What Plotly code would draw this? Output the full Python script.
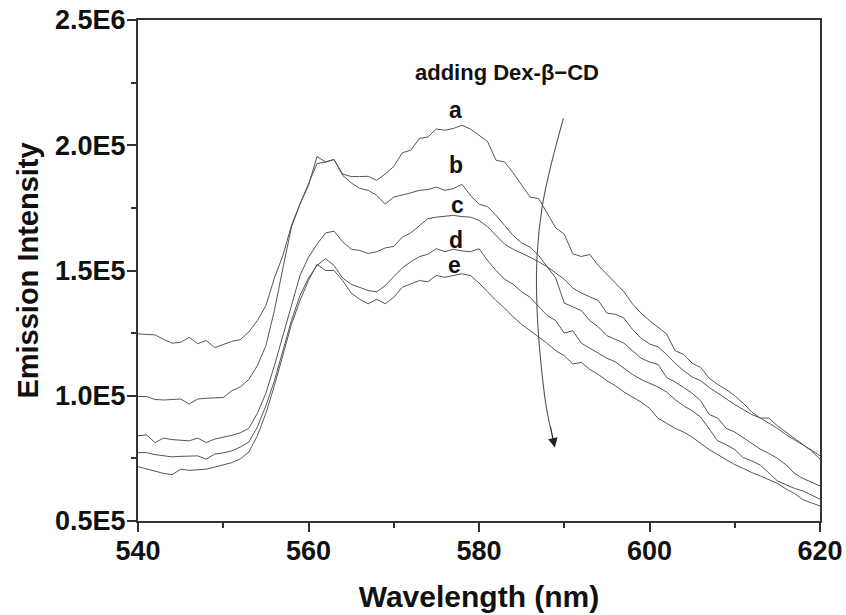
import plotly.graph_objects as go

# wavelength (nm), 1 nm steps
wavelength = list(range(540, 621))

# emission intensity, in units of 1E3
curve_a = [124.7, 124.5, 124.3, 122.5, 121.0, 121.3, 123.3, 120.8, 122.0, 119.2,
           120.5, 121.7, 122.4, 125.5, 130.0, 136.0, 147.0, 156.0, 168.0, 176.5,
           184.0, 195.5, 193.3, 194.3, 188.5, 187.5, 187.5, 187.6, 186.0, 188.5,
           191.5, 197.0, 198.0, 202.7, 203.3, 206.5, 206.0, 206.7, 208.0, 206.5,
           204.0, 201.5, 194.0, 193.3, 189.0, 184.0, 179.3, 178.7, 172.7, 167.0,
           164.5, 156.7, 155.6, 156.4, 152.0, 148.5, 145.0, 141.5, 136.7, 133.0,
           130.0, 127.5, 124.7, 118.0, 116.5, 113.0, 111.3, 107.0, 104.5, 102.5,
           100.0, 97.0, 93.5, 91.1, 91.1, 88.0, 85.5, 83.3, 80.5, 78.0, 74.7]
curve_b = [99.7, 99.7, 98.5, 98.3, 98.5, 98.7, 96.7, 98.7, 99.0, 99.1,
           99.3, 102.0, 103.5, 106.5, 112.0, 120.0, 134.0, 151.0, 167.3, 176.5,
           184.7, 192.7, 193.3, 194.3, 188.0, 185.0, 182.8, 182.0, 180.0, 176.5,
           179.3, 180.0, 181.0, 182.0, 182.3, 183.3, 182.0, 182.7, 184.4, 180.0,
           176.5, 175.5, 172.0, 168.0, 164.0, 161.0, 159.3, 156.0, 151.5, 149.0,
           146.5, 143.0, 141.0, 139.5, 138.0, 133.0, 132.5, 131.0, 126.5, 123.0,
           120.7, 119.5, 116.5, 113.0, 110.0, 107.5, 106.0, 103.3, 101.0, 98.5,
           96.5, 94.5, 92.5, 91.1, 89.0, 87.0, 84.5, 82.5, 80.5, 78.3, 76.0]
curve_c = [84.0, 84.4, 81.3, 83.1, 82.5, 82.2, 82.0, 83.1, 81.3, 82.7,
           83.3, 84.2, 85.2, 87.0, 93.0, 101.0, 112.0, 124.0, 136.5, 148.0,
           155.3, 160.5, 165.0, 165.7, 161.5, 158.5, 158.0, 156.8, 157.5, 159.0,
           159.6, 163.3, 165.0, 168.0, 170.7, 171.3, 171.8, 172.0, 171.5, 171.3,
           170.0, 167.5, 164.0, 160.5, 158.5, 157.0, 155.3, 153.5, 151.5, 147.0,
           137.0, 135.5, 134.0, 130.0, 127.5, 124.0, 122.5, 121.0, 118.0, 115.0,
           113.5, 112.5, 107.3, 105.5, 103.3, 101.0, 98.0, 92.5, 91.1, 87.0,
           85.5, 83.3, 81.0, 78.7, 77.0, 75.0, 72.5, 69.0, 67.0, 65.5, 64.0]
curve_d = [77.3, 77.3, 76.5, 76.0, 75.6, 75.8, 76.0, 76.0, 74.7, 76.7,
           77.2, 78.0, 79.5, 81.5, 87.5, 96.0, 106.0, 118.0, 130.0, 140.0,
           147.0, 152.0, 154.7, 152.0, 147.0, 144.5, 143.3, 142.0, 141.5, 144.0,
           147.5, 151.0, 153.5, 155.5, 156.5, 158.7, 157.5, 158.5, 157.8, 157.5,
           158.7, 154.0, 150.0, 146.5, 144.5, 141.5, 139.3, 135.5, 132.0, 130.0,
           125.0, 126.0, 121.0, 119.0, 117.0, 115.0, 113.5, 111.0, 108.5, 106.5,
           105.0, 103.5, 101.5, 98.5, 96.0, 94.0, 91.5, 86.5, 82.0, 80.5,
           78.5, 75.3, 74.0, 72.3, 69.0, 66.0, 64.5, 63.0, 62.0, 60.5, 58.7]
curve_e = [71.7, 70.8, 70.0, 69.0, 68.5, 70.7, 70.2, 70.3, 70.7, 71.5,
           72.5, 73.3, 74.8, 77.5, 84.0, 93.0, 104.0, 116.0, 128.5, 138.0,
           146.0, 152.5, 150.0, 150.0, 146.0, 141.0, 138.5, 136.7, 138.5, 136.7,
           139.3, 143.3, 144.5, 146.0, 145.5, 148.0, 147.3, 148.0, 148.7, 148.0,
           145.0, 141.5, 138.0, 135.0, 131.5, 128.5, 126.0, 123.5, 120.9, 118.0,
           116.0, 112.7, 113.3, 110.5, 108.5, 106.0, 104.0, 101.5, 99.5, 97.5,
           95.0, 91.0, 89.0, 87.0, 85.5, 83.5, 81.0, 78.5, 76.5, 74.5,
           72.5, 71.0, 69.3, 68.0, 66.5, 65.0, 62.8, 61.0, 58.5, 57.3, 56.0]

curves = {'a': curve_a, 'b': curve_b, 'c': curve_c, 'd': curve_d, 'e': curve_e}

# label positions (nm, intensity in 1E3)
label_pos = {'a': (577.3, 214), 'b': (577.3, 192), 'c': (577.5, 176),
             'd': (577.3, 162), 'e': (577.1, 152)}

y_ticks = [50000, 100000, 150000, 200000, 250000]
y_ticktext = ['0.5E5', '1.0E5', '1.5E5', '2.0E5', '2.5E6']
x_ticks = [540, 560, 580, 600, 620]

# curved arrow (nm, intensity in 1E3)
arrow_x = [589.9, 588.3, 587.4, 586.8, 586.8, 587.2, 587.9, 588.4]
arrow_y = [210.7, 190, 175.3, 155.3, 135.3, 115.3, 95.3, 87]

FONT = 'Liberation Sans, Arial, sans-serif'
LINE = '#555555'

fig = go.Figure()
for name, vals in curves.items():
    fig.add_trace(go.Scatter(x=wavelength, y=[v * 1000 for v in vals], mode='lines',
                             line=dict(color=LINE, width=1), name=name,
                             showlegend=False))

fig.add_trace(go.Scatter(x=arrow_x, y=[v * 1000 for v in arrow_y], mode='lines',
                         line=dict(color='#555555', width=1.1, shape='spline'),
                         showlegend=False))
fig.add_annotation(x=588.9, y=79300, ax=588.35, ay=88000, axref='x', ayref='y',
                   xref='x', yref='y', text='', showarrow=True,
                   arrowhead=2, arrowsize=1.6, arrowwidth=1.2, arrowcolor='#222222')

for name, (lx, ly) in label_pos.items():
    fig.add_annotation(x=lx, y=ly * 1000, text=name, showarrow=False,
                       font=dict(family=FONT, size=23, color='#111111', weight='bold'))

fig.add_annotation(x=583.3, y=229000, text='adding Dex-β−CD', showarrow=False,
                   font=dict(family=FONT, size=22, color='#111111', weight='bold'))

axis_common = dict(showline=True, linecolor='#333333', linewidth=2, mirror=True,
                   showgrid=False, zeroline=False, ticks='outside', ticklen=9,
                   tickwidth=2, tickcolor='#333333', automargin=False,
                   ticklabelstandoff=-4,
                   tickfont=dict(family=FONT, size=27, color='#111111', weight='bold'))

fig.update_layout(
    width=846, height=615,
    margin=dict(l=138, r=26, t=20, b=94),
    paper_bgcolor='white', plot_bgcolor='white',
    xaxis=dict(range=[540, 620], tickvals=x_ticks,
               minor=dict(ticks='outside', ticklen=5, tickwidth=2, tickcolor='#333333',
                          dtick=10, tick0=540, showgrid=False),
               title=dict(text='Wavelength (nm)', standoff=21,
                          font=dict(family=FONT, size=30, color='#111111', weight='bold')),
               **axis_common),
    yaxis=dict(range=[50000, 250000], tickvals=y_ticks, ticktext=y_ticktext,
               minor=dict(ticks='outside', ticklen=5, tickwidth=2, tickcolor='#333333',
                          tickvals=[75000, 125000, 175000, 225000], showgrid=False),
               title=dict(text='Emission Intensity', standoff=8,
                          font=dict(family=FONT, size=29, color='#111111', weight='bold')),
               **axis_common),
)

fig.write_html('out.html', config={'displayModeBar': False},
               post_script="document.body.style.margin='0';")
